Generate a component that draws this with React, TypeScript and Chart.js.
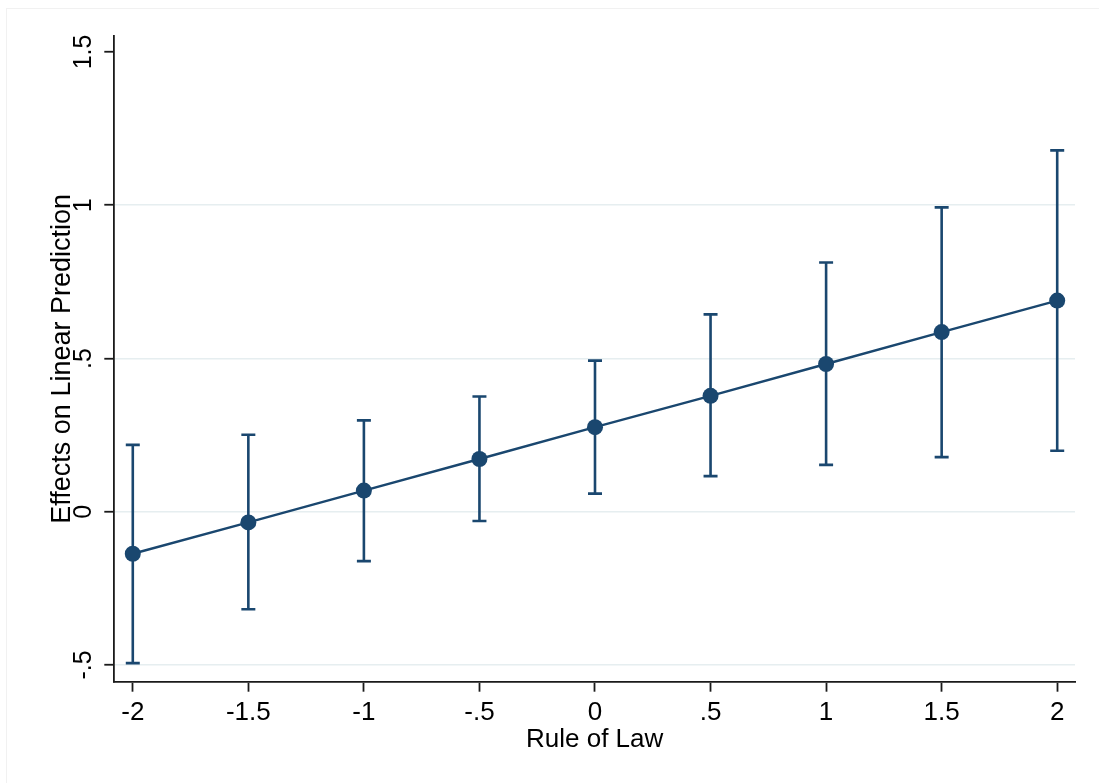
import React, { useEffect, useRef } from "react";
import { Chart, registerables } from "chart.js";

Chart.register(...registerables);

const xValues = [-2, -1.5, -1, -0.5, 0, 0.5, 1, 1.5, 2];
const estimates = [-0.137, -0.035, 0.069, 0.172, 0.276, 0.378, 0.482, 0.586, 0.689];
const upperCI = [0.218, 0.251, 0.298, 0.376, 0.493, 0.644, 0.813, 0.993, 1.179];
const lowerCI = [-0.494, -0.318, -0.161, -0.03, 0.059, 0.116, 0.153, 0.178, 0.199];

const xTicks = [-2, -1.5, -1, -0.5, 0, 0.5, 1, 1.5, 2];
const xTickLabels = ["-2", "-1.5", "-1", "-.5", "0", ".5", "1", "1.5", "2"];
const yTicks = [-0.5, 0, 0.5, 1, 1.5];
const yTickLabels = ["-.5", "0", ".5", "1", "1.5"];

const xTitle = "Rule of Law";
const yTitle = "Effects on Linear Prediction";

const NAVY = "#1a476f";
const AXIS = "#1a1a1a";
const GRID = "#e6eef0";
const FONT = "'Liberation Sans', Arial, Helvetica, sans-serif";

const errorBarPlugin = {
  id: "errorBars",
  beforeDatasetsDraw(chart: any) {
    const { ctx, scales } = chart;
    const xs = scales.x;
    const ys = scales.y;
    ctx.save();
    ctx.strokeStyle = NAVY;
    ctx.lineWidth = 2.6;
    ctx.lineCap = "butt";
    const cap = 7;
    xValues.forEach((xv, i) => {
      const px = xs.getPixelForValue(xv);
      const pu = ys.getPixelForValue(upperCI[i]);
      const pl = ys.getPixelForValue(lowerCI[i]);
      ctx.beginPath();
      ctx.moveTo(px, pu);
      ctx.lineTo(px, pl);
      ctx.moveTo(px - cap, pu);
      ctx.lineTo(px + cap, pu);
      ctx.moveTo(px - cap, pl);
      ctx.lineTo(px + cap, pl);
      ctx.stroke();
    });
    ctx.restore();
  },
};

const framePlugin = {
  id: "frame",
  beforeDraw(chart: any) {
    const { ctx } = chart;
    ctx.save();
    ctx.strokeStyle = "#f1f1f1";
    ctx.lineWidth = 1;
    ctx.strokeRect(6.5, 8.5, 1200, 1000);
    ctx.restore();
  },
};

export default function App() {
  const ref = useRef<HTMLCanvasElement | null>(null);

  useEffect(() => {
    if (!ref.current) return;
    const chart = new Chart(ref.current, {
      type: "line",
      data: {
        datasets: [
          {
            data: xValues.map((x, i) => ({ x, y: estimates[i] })),
            borderColor: NAVY,
            borderWidth: 2.4,
            backgroundColor: NAVY,
            pointBackgroundColor: NAVY,
            pointBorderWidth: 0,
            pointRadius: 8,
            pointHoverRadius: 8,
            tension: 0,
            fill: false,
          },
        ],
      },
      options: {
        responsive: false,
        animation: false,
        events: [],
        layout: { padding: { top: 36, right: 24, left: 0, bottom: 0 } },
        plugins: {
          legend: { display: false },
          tooltip: { enabled: false },
          title: { display: false },
        },
        scales: {
          x: {
            type: "linear",
            min: -2.08,
            max: 2.077,
            afterBuildTicks: (scale: any) => {
              scale.ticks = xTicks.map((v) => ({ value: v }));
            },
            afterFit: (scale: any) => {
              scale.height = 101.3;
            },
            ticks: {
              autoSkip: false,
              maxRotation: 0,
              minRotation: 0,
              padding: 6,
              color: "#000",
              font: { family: FONT, size: 26 },
              callback: (v: any) => {
                const i = xTicks.indexOf(Number(v));
                return i >= 0 ? xTickLabels[i] : "";
              },
            },
            grid: {
              drawOnChartArea: false,
              drawTicks: true,
              tickLength: 10,
              tickColor: AXIS,
              tickWidth: 1.8,
            },
            border: { display: true, color: AXIS, width: 1.8 },
            title: {
              display: true,
              text: xTitle,
              color: "#000",
              font: { family: FONT, size: 26 },
              padding: { top: 0, bottom: 28 },
            },
          },
          y: {
            type: "linear",
            min: -0.5545,
            max: 1.552,
            afterBuildTicks: (scale: any) => {
              scale.ticks = yTicks.map((v) => ({ value: v }));
            },
            afterFit: (scale: any) => {
              scale.width = 114.3;
            },
            ticks: {
              autoSkip: false,
              minRotation: 90,
              maxRotation: 90,
              crossAlign: "center",
              padding: 3,
              color: "#000",
              font: { family: FONT, size: 25 },
              callback: (v: any) => {
                const i = yTicks.indexOf(Number(v));
                return i >= 0 ? yTickLabels[i] : "";
              },
            },
            grid: {
              color: (c: any) => (c.tick && c.tick.value === 1.5 ? "rgba(0,0,0,0)" : GRID),
              lineWidth: 1.5,
              drawTicks: true,
              tickLength: 10,
              tickColor: AXIS,
              tickWidth: 1.8,
            },
            border: { display: true, color: AXIS, width: 1.8 },
            title: {
              display: true,
              text: yTitle,
              color: "#000",
              font: { family: FONT, size: 27 },
              padding: { top: 46, bottom: 0 },
            },
          },
        },
      },
      plugins: [errorBarPlugin, framePlugin],
    } as any);
    return () => chart.destroy();
  }, []);

  return (
    <canvas
      ref={ref}
      width={1099}
      height={783}
      style={{ position: "absolute", left: 0, top: 0, width: 1099, height: 783 }}
    />
  );
}
